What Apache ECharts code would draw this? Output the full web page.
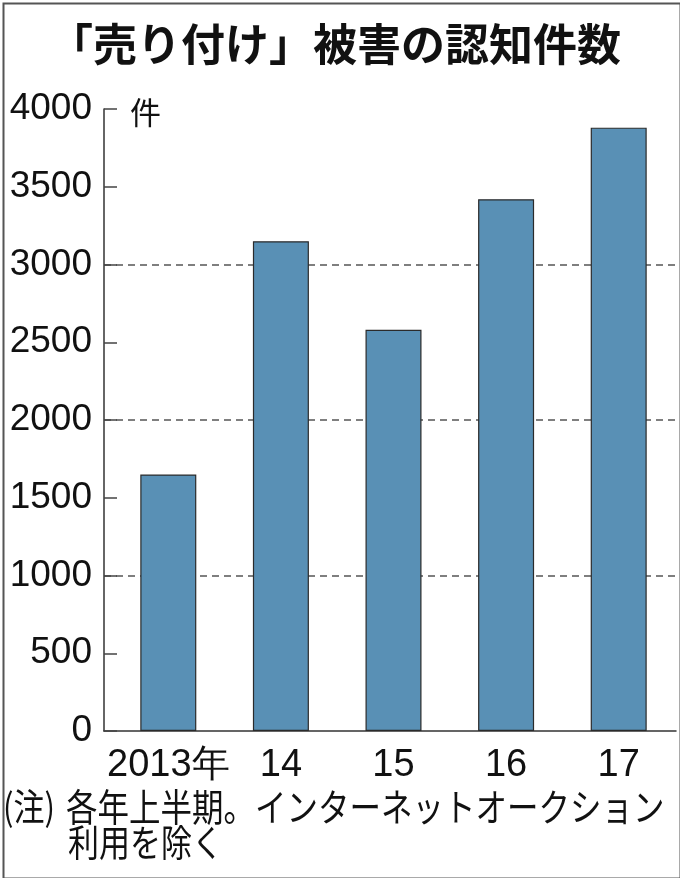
<!DOCTYPE html>
<html>
<head>
<meta charset="utf-8">
<script src="https://cdn.jsdelivr.net/npm/echarts@6/dist/echarts.min.js"></script>
<style>
html,body{margin:0;padding:0;background:#fff;}
#chart{width:680px;height:878px;}
</style>
</head>
<body>
<div id="chart"></div>
<script>
const titleText = '「売り付け」被害の認知件数';
const categories = ['2013年', '14', '15', '16', '17'];
const values = [1650, 3150, 2580, 3420, 3880];
const yTicks = [0, 500, 1000, 1500, 2000, 2500, 3000, 3500, 4000];
const unitLabel = '件';
const noteMark = '(注)';
const noteLine1 = '各年上半期。インターネットオークション';
const noteLine2 = '利用を除く';

const chart = echarts.init(document.getElementById('chart'));
const numFont = '"Liberation Sans Narrow", "Arial Narrow", "Liberation Sans", Arial, sans-serif';
const jpFont = '"Noto Sans CJK JP", "Noto Sans CJK SC", sans-serif';
const yMin = yTicks[0], yMax = yTicks[yTicks.length - 1];

chart.setOption({
  animation: false,
  backgroundColor: '#fff',
  title: {
    text: titleText,
    left: 44,
    top: 17,
    textStyle: { fontFamily: jpFont, fontSize: 44, fontWeight: 'bold', color: '#111' }
  },
  grid: [
    { left: 104, right: 4, top: 109, bottom: 147, outerBoundsMode: 'none', containLabel: false },
    { left: 112, right: 5, top: 109, bottom: 147, outerBoundsMode: 'none', containLabel: false }
  ],
  xAxis: [
    { gridIndex: 0, type: 'value', min: 0, max: 1, show: true,
      axisLine: { show: true, onZero: false, lineStyle: { color: '#333', width: 1.5 } },
      axisTick: { show: false }, axisLabel: { show: false }, splitLine: { show: false } },
    { gridIndex: 1, type: 'category', data: categories,
      axisLine: { show: false }, axisTick: { show: false },
      axisLabel: { interval: 0, fontFamily: numFont, fontSize: 38, color: '#111', margin: 16,
        formatter: function (v) { return v; } } }
  ],
  yAxis: [
    { gridIndex: 0, type: 'value', min: yMin, max: yMax, interval: 1000,
      axisLine: { show: false }, axisTick: { show: false }, axisLabel: { show: false },
      splitLine: { show: true, showMinLine: false, showMaxLine: false,
        lineStyle: { color: '#555', width: 1.5, type: [7, 5] } } },
    { gridIndex: 1, type: 'value', min: yMin, max: yMax, interval: yTicks[1] - yTicks[0], offset: 8,
      name: unitLabel, nameLocation: 'end', nameGap: -3,
      nameTextStyle: { fontFamily: jpFont, fontSize: 31, color: '#111', align: 'left',
        verticalAlign: 'middle', padding: [0, 0, 0, 26] },
      axisLine: { show: true, lineStyle: { color: '#333', width: 1.5 } },
      axisTick: { show: true, inside: true, length: 13, lineStyle: { color: '#444', width: 1.5 } },
      axisLabel: { fontFamily: numFont, fontSize: 37, color: '#111', margin: 12,
        formatter: function (v) { return String(v); } },
      splitLine: { show: false } }
  ],
  series: [
    { type: 'bar', xAxisIndex: 1, yAxisIndex: 1, data: values, barWidth: 56, z: 5,
      itemStyle: { color: '#5990b5', borderColor: '#2b2b2b', borderWidth: 1.2 } }
  ],
  graphic: [
    { type: 'rect', left: 1, top: 1, z: 100, silent: true,
      shape: { width: 677, height: 875 },
      style: { fill: 'none', stroke: '#555', lineWidth: 2 } },
    { type: 'text', x: 3, y: 807, scaleY: 1.2,
      style: { text: noteMark, font: '31px ' + jpFont, fill: '#111', textVerticalAlign: 'middle' } },
    { type: 'text', x: 66, y: 807, scaleY: 1.2,
      style: { text: noteLine1, font: '31.5px ' + jpFont, fill: '#111', textVerticalAlign: 'middle' } },
    { type: 'text', x: 68, y: 843, scaleY: 1.2,
      style: { text: noteLine2, font: '31px ' + jpFont, fill: '#111', textVerticalAlign: 'middle' } }
  ]
});
</script>
</body>
</html>
